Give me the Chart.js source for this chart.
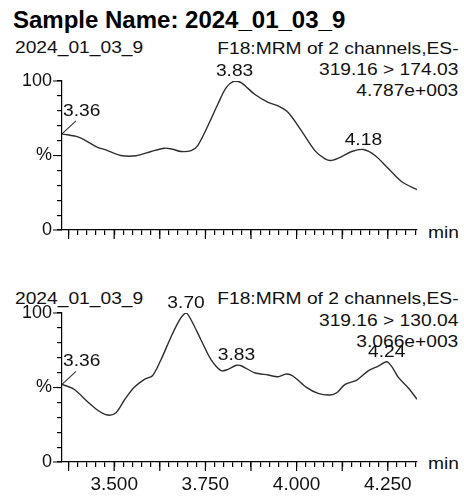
<!DOCTYPE html>
<html>
<head>
<meta charset="utf-8">
<script src="https://cdn.jsdelivr.net/npm/chart.js@4.4.1/dist/chart.umd.min.js"></script>
<style>
  html, body { margin: 0; padding: 0; background: #fff; }
  #page { position: relative; width: 464px; height: 496px; overflow: hidden; font-family: "Liberation Sans", Arial, sans-serif; color: #111; }
  .t { position: absolute; font-size: 17px; line-height: 17px; white-space: nowrap; transform: scaleX(1.13); transform-origin: left top; }
  .r { transform-origin: right top; right: 5.7px; }
  #title { position: absolute; left: 13px; top: 7.7px; font-size: 24px; line-height: 24px; font-weight: bold; white-space: nowrap; color: #000; }
  canvas { position: absolute; left: 0; }
</style>
</head>
<body>
<div id="page">
  <div id="title">Sample Name: 2024_01_03_9</div>

  <div class="t" style="left:15px; top:39.1px">2024_01_03_9</div>
  <div class="t r" style="top:39.6px">F18:MRM of 2 channels,ES-</div>
  <div class="t r" style="top:60.9px">319.16 &gt; 174.03</div>
  <div class="t r" style="top:82.3px">4.787e+003</div>
  <div class="t" style="left:428px; top:223.9px">min</div>

  <div class="t" style="left:15px; top:289.6px">2024_01_03_9</div>
  <div class="t r" style="top:289.6px">F18:MRM of 2 channels,ES-</div>
  <div class="t r" style="top:311.6px">319.16 &gt; 130.04</div>
  <div class="t r" style="top:332.6px">3.066e+003</div>
  <div class="t" style="left:428px; top:454.6px">min</div>

  <canvas id="c1" width="464" height="248" style="top:0"></canvas>
  <canvas id="c2" width="464" height="248" style="top:248px"></canvas>
</div>
<script>
// 319.16 > 174.03 trace (time in min, % of max)
const times1 = [3.357, 3.404, 3.450, 3.482, 3.518, 3.560, 3.601, 3.638, 3.660, 3.683,
                3.711, 3.729, 3.757, 3.784, 3.807, 3.830, 3.848, 3.885, 3.922, 3.949,
                3.977, 4.013, 4.050, 4.078, 4.096, 4.124, 4.151, 4.183, 4.215, 4.252,
                4.289, 4.330];
const values1 = [64.5, 62.2, 56.0, 53.3, 50.0, 49.8, 52.7, 54.9, 54.2, 52.7,
                 53.3, 56.7, 70.0, 84.4, 95.6, 100, 98.9, 91.1, 85.6, 83.3,
                 78.9, 66.7, 53.3, 47.8, 46.7, 49.3, 52.7, 54.0, 50.0, 41.1,
                 32.2, 27.1];
const peaks1 = [3.36, 3.83, 4.18];

// 319.16 > 130.04 trace
const times2 = [3.357, 3.390, 3.427, 3.454, 3.482, 3.505, 3.528, 3.555, 3.583, 3.605,
                3.628, 3.656, 3.679, 3.697, 3.711, 3.738, 3.766, 3.793, 3.812, 3.835,
                3.848, 3.885, 3.922, 3.949, 3.972, 3.990, 4.027, 4.059, 4.091, 4.110,
                4.133, 4.165, 4.197, 4.224, 4.247, 4.261, 4.279, 4.307, 4.330];
const values2 = [52.1, 48.8, 40.5, 34.9, 31.5, 33.1, 41.6, 50.1, 55.5, 57.9,
                 68.5, 84.1, 95.3, 100, 95.3, 81.9, 68.5, 61.3, 62.2, 64.9,
                 64.6, 59.9, 58.4, 57.2, 59.1, 57.7, 50.1, 46.1, 45.0, 46.5,
                 52.1, 55.0, 61.3, 64.4, 67.3, 64.0, 56.8, 49.5, 42.1];
const peaks2 = [3.36, 3.70, 3.83, 4.24];

const xMin = 3.357, xMax = 4.33;
const xLabelTicks = [3.5, 3.75, 4.0, 4.25];

const isMultiple = (v, step) => Math.abs(v / step - Math.round(v / step)) < 1e-6;
const labelFont = '17px "Liberation Sans", Arial, sans-serif';

// longer tick marks at major positions
const majorTicks = {
    id: 'majorTicks',
    afterDraw(chart) {
        const { ctx, scales: { x, y } } = chart;
        ctx.save();
        ctx.strokeStyle = '#000';
        ctx.lineWidth = 1.2;
        ctx.beginPath();
        x.ticks.forEach(tk => {
            if (isMultiple(tk.value, 0.125)) {
                const px = x.getPixelForValue(tk.value);
                ctx.moveTo(px, x.top);
                ctx.lineTo(px, x.top + 9);
            }
        });
        y.ticks.forEach(tk => {
            if (isMultiple(tk.value, 50)) {
                const py = y.getPixelForValue(tk.value);
                ctx.moveTo(y.right - 9, py);
                ctx.lineTo(y.right, py);
            }
        });
        ctx.stroke();
        ctx.restore();
    }
};

// peak retention time labels
const peakLabels = {
    id: 'peakLabels',
    afterDatasetsDraw(chart, args, opts) {
        const ctx = chart.ctx;
        const pts = chart.data.datasets[0].data;
        const meta = chart.getDatasetMeta(0);
        ctx.save();
        ctx.font = labelFont;
        ctx.fillStyle = '#111';
        ctx.strokeStyle = '#333';
        ctx.lineWidth = 1.1;
        opts.times.forEach(t => {
            let best = 0;
            pts.forEach((p, i) => {
                if (Math.abs(p.x - t) < Math.abs(pts[best].x - t)) best = i;
            });
            const el = meta.data[best];
            const txt = t.toFixed(2);
            ctx.save();
            if (best === 0) {
                ctx.beginPath();
                ctx.moveTo(el.x, el.y);
                ctx.lineTo(el.x + 14, el.y - 13);
                ctx.stroke();
                ctx.translate(el.x + 1, el.y - 18);
                ctx.scale(1.13, 1);
                ctx.textAlign = 'left';
            } else {
                ctx.translate(el.x, el.y - 5);
                ctx.scale(1.13, 1);
                ctx.textAlign = 'center';
            }
            ctx.textBaseline = 'alphabetic';
            ctx.fillText(txt, 0, 0);
            ctx.restore();
        });
        ctx.restore();
    }
};

function makeChart(id, times, values, peaks, padTop, xHeight, showX) {
    const pts = times.map((t, i) => ({ x: t, y: values[i] }));
    return new Chart(document.getElementById(id), {
        type: 'line',
        data: {
            datasets: [{
                data: pts,
                borderColor: '#2e2e2e',
                borderWidth: 1.4,
                pointRadius: 0,
                tension: 0.3,
                fill: false
            }]
        },
        options: {
            responsive: false,
            animation: false,
            devicePixelRatio: 1,
            layout: { padding: { top: padTop, left: 0, right: 47, bottom: 0 } },
            plugins: {
                legend: { display: false },
                tooltip: { enabled: false },
                peakLabels: { times: peaks }
            },
            scales: {
                x: {
                    type: 'linear',
                    min: xMin,
                    max: xMax,
                    afterFit: s => { s.height = xHeight; },
                    border: { color: '#000', width: 1.2 },
                    grid: { drawOnChartArea: false, tickLength: 5, color: '#000', lineWidth: 1.2 },
                    ticks: {
                        stepSize: 0.025,
                        includeBounds: false,
                        autoSkip: false,
                        maxRotation: 0,
                        minRotation: 0,
                        padding: 6,
                        color: '#111',
                        font: { family: '"Liberation Sans", Arial, sans-serif', size: 19 },
                        callback: v => (showX && xLabelTicks.some(m => Math.abs(m - v) < 1e-6)) ? v.toFixed(3) : ''
                    }
                },
                y: {
                    min: 0,
                    max: 100,
                    afterFit: s => { s.width = 62; },
                    border: { color: '#000', width: 1.2 },
                    grid: { drawOnChartArea: false, tickLength: 5, color: '#000', lineWidth: 1.2 },
                    ticks: {
                        stepSize: 10,
                        autoSkip: false,
                        padding: 5,
                        color: '#111',
                        font: { family: '"Liberation Sans", Arial, sans-serif', size: 18 },
                        callback: v => v === 100 ? '100' : v === 50 ? '%' : v === 0 ? '0' : ''
                    }
                }
            }
        },
        plugins: [majorTicks, peakLabels]
    });
}

makeChart('c1', times1, values1, peaks1, 81, 18, false);
makeChart('c2', times2, values2, peaks2, 65, 34, true);
</script>
</body>
</html>
